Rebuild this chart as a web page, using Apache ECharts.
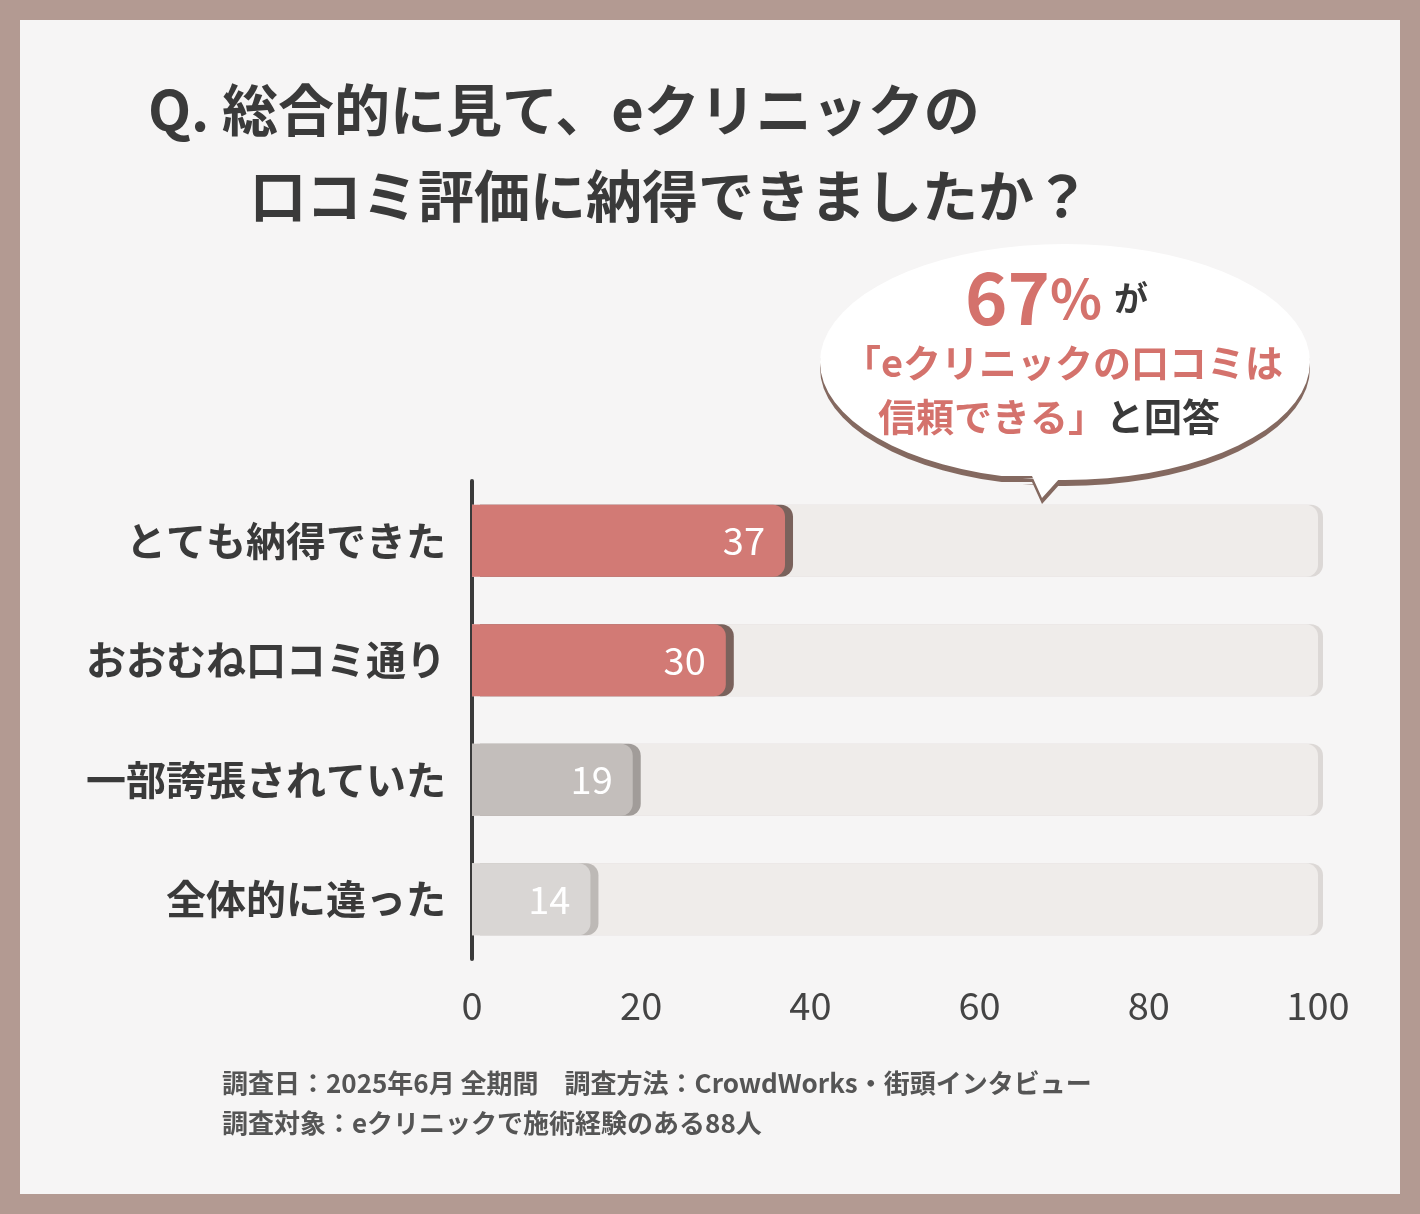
<!DOCTYPE html>
<html><head><meta charset="utf-8">
<script src="https://cdn.jsdelivr.net/npm/echarts@6/dist/echarts.min.js"></script>
<style>html,body{margin:0;padding:0;background:#b39a92}#c{width:1420px;height:1214px}</style>
</head><body><div id="c"></div>
<script>
const categories=['とても納得できた','おおむね口コミ通り','一部誇張されていた','全体的に違った'];
const values=[37,30,19,14];
const barColors=['#d27a75','#d27a75','#c3bebb','#d9d6d4'];
const shadowColors=['#7a625c','#7a625c','#a19c99','#bdb9b6'];
const xTicks=[0,20,40,60,80,100];
const F='"Noto Sans CJK JP","Noto Sans",sans-serif';
// bubble outline
const bubble=[];
for(let k=0;k<=72;k++){
  const t=Math.PI*2*k/72;
  const x=1065+245*Math.cos(t), y=362+118*Math.sin(t);
  bubble.push([x,y]);
  if(k===20){bubble.push([1060,478],[1042,498],[1032,476]);}
}
const chart=echarts.init(document.getElementById('c'));
chart.setOption({
 backgroundColor:'#b39a92',
 graphic:[
  {type:'rect',z:-10,shape:{x:20,y:20,width:1380,height:1174},style:{fill:'#f6f5f5'}},
  {type:'text',x:148,y:82,style:{text:'Q. 総合的に見て、eクリニックの',font:'bold 56px '+F,fill:'#3a3a3a'}},
  {type:'text',x:250,y:168,style:{text:'口コミ評価に納得できましたか？',font:'bold 56px '+F,fill:'#3a3a3a'}},
  {type:'polygon',z:1,shape:{points:bubble},style:{fill:'#ffffff',shadowColor:'rgba(120,90,80,0.9)',shadowOffsetY:6,shadowBlur:0}},
  {type:'circle',z:1,shape:{cx:990,cy:520,r:11},style:{fill:'#fff',shadowColor:'rgba(120,90,80,0.9)',shadowOffsetY:3}},
  {type:'circle',z:1,shape:{cx:960,cy:543,r:6},style:{fill:'#fff',shadowColor:'rgba(120,90,80,0.9)',shadowOffsetY:2}},
  {type:'text',z:2,x:965,y:262,style:{rich:{a:{font:'bold 72px '+F,fill:'#d4726c'},b:{font:'bold 54px '+F,fill:'#d4726c'},c:{font:'bold 34px '+F,fill:'#3a3a3a',padding:[0,0,0,12]}},text:'{a|67}{b|%}{c|が}'}},
  {type:'text',z:2,x:843,y:344,style:{text:'「eクリニックの口コミは',font:'bold 38px '+F,fill:'#d4726c'}},
  {type:'text',z:2,x:878,y:398,style:{rich:{p:{font:'bold 38px '+F,fill:'#d4726c'},d:{font:'bold 38px '+F,fill:'#3a3a3a'}},text:'{p|信頼できる」}{d|と回答}'}},
  {type:'text',x:222,y:1070,style:{text:'調査日：2025年6月 全期間　調査方法：CrowdWorks・街頭インタビュー',font:'bold 26px '+F,fill:'#555'}},
  {type:'text',x:222,y:1110,style:{text:'調査対象：eクリニックで施術経験のある88人',font:'bold 26px '+F,fill:'#555'}}
 ],
 grid:{left:472,right:102,top:481,bottom:255},
 xAxis:{type:'value',min:0,max:100,interval:20,splitLine:{show:false},axisLine:{show:false},axisTick:{show:false},
  axisLabel:{margin:28,fontSize:38,color:'#444',fontFamily:F,formatter:v=>xTicks.includes(v)?String(v):''}},
 yAxis:{type:'category',inverse:true,data:categories,axisTick:{show:false},
  axisLine:{show:true,lineStyle:{color:'#3a3a3a',width:4}},
  axisLabel:{margin:26,fontSize:40,color:'#3a3a3a',fontFamily:F,fontWeight:'bold'}},
 series:[
  {type:'bar',barWidth:72,silent:true,data:values.map(()=>100),
   itemStyle:{color:'#efecea',borderRadius:[0,12,12,0],shadowColor:'#dcd8d6',shadowOffsetX:5}},
  {type:'bar',barWidth:72,barGap:'-100%',data:values.map((v,i)=>({value:v,itemStyle:{color:barColors[i],shadowColor:shadowColors[i],shadowOffsetX:8}})),
   itemStyle:{borderRadius:[0,12,12,0]},
   label:{show:true,position:'insideRight',distance:20,color:'#fff',fontSize:38,fontFamily:F}}
 ]
});
</script></body></html>
